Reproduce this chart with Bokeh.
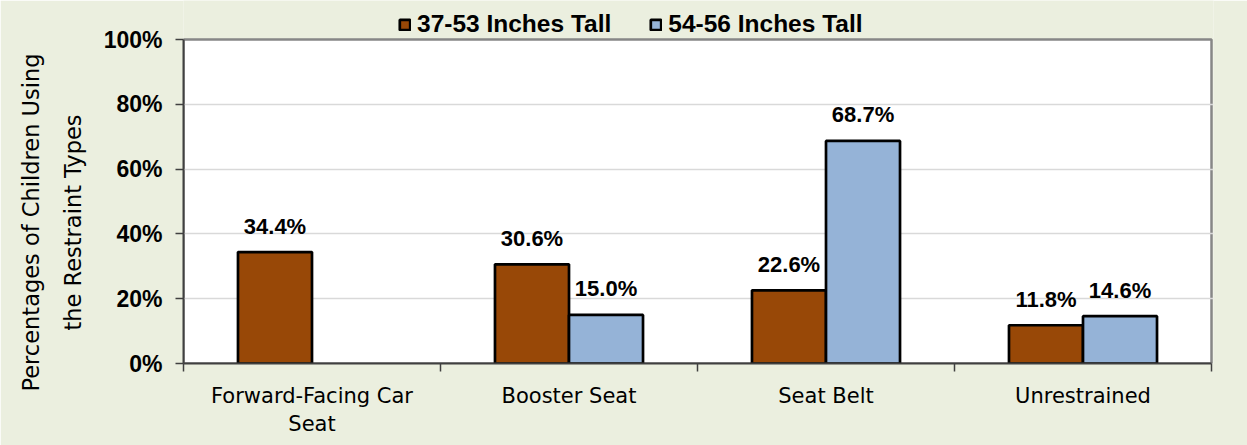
from bokeh.plotting import figure
from bokeh.models import (Range1d, FixedTicker, PrintfTickFormatter, Legend, LegendItem, Title)
from bokeh.core.properties import value
from bokeh.embed import file_html
from bokeh.resources import INLINE

categories = ["Forward-Facing Car\nSeat", "Booster Seat", "Seat Belt", "Unrestrained"]
series_names = ["37-53 Inches Tall", "54-56 Inches Tall"]
short_values = [34.4, 30.6, 22.6, 11.8]          # 37-53 inches tall
tall_values = [float("nan"), 15.0, 68.7, 14.6]   # 54-56 inches tall
y_ticks = [0, 20, 40, 60, 80, 100]
y_title_lines = ["Percentages of Children Using", "the Restraint Types"]

BG = "#EBEFDF"
BROWN = "#984807"
BLUE = "#95B3D7"

# layout (pixels): plot area 324 px tall with 39 px of legend space above it
AREA_H, TOP_SPACE = 324, 39
Y_MAX, N = 100, len(categories)
y_end = Y_MAX * (AREA_H + TOP_SPACE) / AREA_H
x_end = N + 2.0 / 257

p = figure(width=1247, height=445, output_backend="svg", toolbar_location=None,
           x_range=Range1d(0, x_end), y_range=Range1d(0, y_end),
           min_border_left=183, min_border_right=34, min_border_top=0, min_border_bottom=82)
p.background_fill_color = BG
p.border_fill_color = BG
p.outline_line_color = None

# white plot area with grey top/right border
area = p.quad(left=[0], right=[N], bottom=[0], top=[Y_MAX], fill_color="white",
              line_color="#878787", line_width=2.5)
area.level = "image"

centers = [i + 0.5 for i in range(N)]
bw = 0.288
xs_short = [c - bw / 2 for c in centers]
xs_tall = [c + bw / 2 for c in centers]

r1 = p.vbar(x=xs_short, top=short_values, width=bw, bottom=0,
            fill_color=BROWN, line_color="black", line_width=2.7)
r2 = p.vbar(x=xs_tall, top=tall_values, width=bw, bottom=0,
            fill_color=BLUE, line_color="black", line_width=2.7)

# data labels
lx, ly, lt = [], [], []
for xs, vals in ((xs_short, short_values), (xs_tall, tall_values)):
    for x, v in zip(xs, vals):
        if v == v:
            lx.append(x); ly.append(v); lt.append(f"{v:.1f}%")
p.text(x=lx, y=ly, text=lt, text_align="center", text_baseline="alphabetic",
       y_offset=-26, text_font=value("Liberation Sans"), text_font_style="bold",
       text_font_size="22px", text_color="black")

# x axis
xa = p.xaxis[0]
xa.bounds = (0, N)
xa.ticker = FixedTicker(ticks=centers, minor_ticks=list(range(N + 1)))
xa.major_label_overrides = {c: lab for c, lab in zip(centers, categories)}
xa.major_tick_out = 0
xa.major_tick_in = 0
xa.minor_tick_out = 8
xa.minor_tick_in = 0
xa.minor_tick_line_color = "#404040"
xa.minor_tick_line_width = 1.5
xa.axis_line_color = "#404040"
xa.axis_line_width = 2
xa.major_label_text_font = "DejaVu Sans"
xa.major_label_text_font_size = "21px"
xa.major_label_text_color = "black"
xa.major_label_standoff = 12

# y axis
ya = p.yaxis[0]
ya.bounds = (0, Y_MAX)
ya.ticker = FixedTicker(ticks=y_ticks, minor_ticks=[])
ya.formatter = PrintfTickFormatter(format="%d%%")
ya.major_tick_out = 8
ya.major_tick_in = 0
ya.major_tick_line_color = "#404040"
ya.major_tick_line_width = 1.5
ya.axis_line_color = "#404040"
ya.axis_line_width = 2
ya.major_label_text_font = "Liberation Sans"
ya.major_label_text_font_style = "bold"
ya.major_label_text_font_size = "23px"
ya.major_label_text_color = "black"
ya.major_label_standoff = 13

# y-axis title: two rotated lines, each centred on the white plot area
title_offsets = [-28, 33]     # px from the bottom of the frame to each line's start
title_standoffs = [0, 29]
for line, off, so in reversed(list(zip(y_title_lines, title_offsets, title_standoffs))):
    p.add_layout(Title(text=line, align="left", offset=off, standoff=so,
                       text_font="DejaVu Sans", text_font_style="normal",
                       text_font_size="22.5px", text_color="black"), "left")

p.xgrid.grid_line_color = None
p.ygrid.ticker = FixedTicker(ticks=[t for t in y_ticks if 0 < t < Y_MAX])
p.ygrid.grid_line_color = "#D9D9D9"
p.ygrid.grid_line_width = 1.5

legend = Legend(items=[LegendItem(label=series_names[0], renderers=[r1]),
                       LegendItem(label=series_names[1], renderers=[r2])],
                orientation="horizontal", location=(215, 325),
                label_text_font="Liberation Sans", label_text_font_style="bold",
                label_text_font_size="24.5px", label_text_color="black",
                glyph_width=13, glyph_height=13, label_standoff=6, spacing=38,
                padding=0, margin=0, background_fill_alpha=0, border_line_alpha=0)
p.add_layout(legend)

open("out.html", "w").write(file_html(p, INLINE))
